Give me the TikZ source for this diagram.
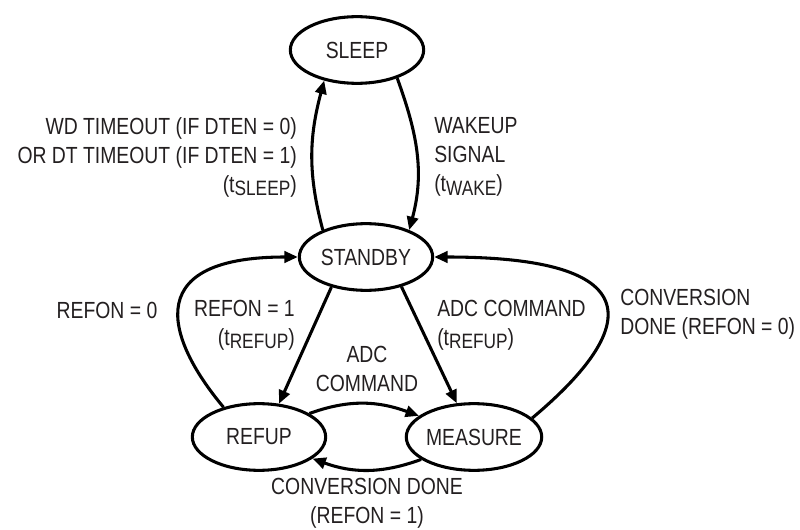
\documentclass[tikz,border=0pt]{standalone}
\usepackage{fontspec}
\setmainfont{Liberation Sans}[FakeStretch=0.83]
\usetikzlibrary{arrows.meta,shapes.geometric}
\definecolor{ink}{HTML}{231F20}
% lowered, slightly smaller subscript used after the time symbol t
\newcommand{\lsub}[1]{\raisebox{-0.3ex}{\fontsize{15.6}{15.6}\selectfont #1}}

\begin{document}
\begin{tikzpicture}[x=0.75pt,y=0.75pt,
  every node/.style={font=\fontsize{17.5}{21.75}\selectfont},
  state/.style={ellipse,draw=black,line width=2.3pt,minimum width=100pt,
    minimum height=50pt,inner sep=0pt,text=ink},
  link/.style={line width=2.3pt,-{Triangle[length=10pt,width=8.5pt]}},
  lbl/.style={text=ink,inner sep=0pt}]
\useasboundingbox (0,0) rectangle (800,529);

% states
\node[state] (sleep)   at (357,479) {SLEEP};
\node[state] (standby) at (366,272) {STANDBY};
\node[state] (refup)   at (259,92)  {REFUP};
\node[state] (measure) at (474,92)  {MEASURE};

% transitions
\draw[link] (standby.148) to[out=105,in=-105] (sleep.223);
\draw[link] (sleep.-35) to[out=-70,in=75] (standby.32);
\draw[link] (refup.140) .. controls +(130:80) and +(180:165) .. (standby.west);
\draw[link] (standby.221) -- (refup.59);
\draw[link] (standby.-40) -- (measure.117);
\draw[link] (measure.18) .. controls +(40:90) and +(0:260) .. (standby.east);
\draw[link] (refup.25) to[out=20,in=160] (measure.159);
\draw[link] (measure.203) to[out=-160,in=-20] (refup.-22);

% transition labels
\node[lbl,anchor=east,align=right] (l1) at (297,372)
  {WD TIMEOUT (IF DTEN = 0)\\OR DT TIMEOUT (IF DTEN = 1)\\(t\lsub{SLEEP})};
\node[lbl,anchor=west,align=left] (l2) at (434,372)
  {WAKEUP\\SIGNAL\\(t\lsub{WAKE})};
\node[lbl] (l3) at (107,219) {REFON = 0};
\node[lbl,anchor=east,align=right] (l4) at (295,204)
  {REFON = 1\\(t\lsub{REFUP})};
\node[lbl,anchor=west,align=left] (l5) at (437,204)
  {ADC COMMAND\\(t\lsub{REFUP})};
\node[lbl,align=center] (l6) at (367,160) {ADC\\COMMAND};
\node[lbl,anchor=west,align=left] (l7) at (620,215)
  {CONVERSION\\DONE (REFON = 0)};
\node[lbl,align=center] (l8) at (367,26)
  {CONVERSION DONE\\(REFON = 1)};
\end{tikzpicture}
\end{document}
